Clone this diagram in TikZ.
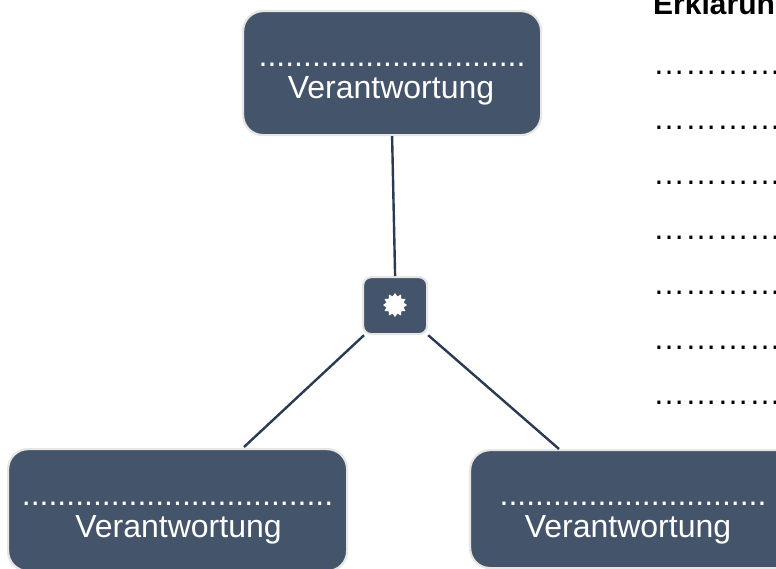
\documentclass[tikz,border=0pt]{standalone}
\usepackage{fontspec}
\setmainfont{Liberation Sans}
\usetikzlibrary{shapes.geometric}
\definecolor{boxfill}{HTML}{44546A}
\definecolor{boxedge}{HTML}{E7E6E6}
\definecolor{linkcol}{HTML}{2A3A54}
\tikzset{
  box/.style={draw=boxedge,line width=2.2pt,fill=boxfill,rounded corners=20pt,inner sep=0pt,anchor=north west},
  hubbox/.style={draw=boxedge,line width=2.2pt,fill=boxfill,rounded corners=8pt,inner sep=0pt,anchor=north west,minimum width=64pt,minimum height=57pt},
  boxtext/.style={text=white,font=\fontsize{32}{32}\selectfont,anchor=base,inner sep=0pt},
  link/.style={draw=linkcol,line width=2.4pt},
  legend/.style={text=black,font=\fontsize{32}{32}\selectfont,anchor=base west,inner sep=0pt},
  legendhead/.style={text=black,font=\fontsize{30}{30}\selectfont\bfseries,anchor=base west,inner sep=0pt},
  burst/.style={star,star points=12,star point ratio=1.35,fill=white,draw=none,minimum size=24pt,inner sep=0pt}
}
\begin{document}
\begin{tikzpicture}[x=1pt,y=-1pt]
\useasboundingbox (0,0) rectangle (776,568);
\clip (0,0) rectangle (776,568);
\node[box,minimum width=298pt,minimum height=124pt] (top) at (242,10) {};
\node[box,minimum width=339pt,minimum height=122pt] (left) at (7,448) {};
\node[box,minimum width=340pt,minimum height=118pt] (right) at (469,449) {};
\node[hubbox] (hub) at (362,276) {};
\node[burst] (sun) at (395,305) {};
\coordinate (leftend) at (244,447);
\coordinate (rightend) at (559,449);
\draw[link] (top.south) -- (hub.north);
\draw[link] (hub.south west) ++(2,0) -- (leftend);
\draw[link] (hub.south east) -- (rightend);
\node[boxtext] (t1) at (392,66) {..............................};
\node[boxtext] (t2) at (391,98) {Verantwortung};
\node[boxtext] (l1) at (177.5,505) {...................................};
\node[boxtext] (l2) at (178.5,537) {Verantwortung};
\node[boxtext] (r1) at (633,505) {..............................};
\node[boxtext] (r2) at (628,537) {Verantwortung};
\node[legendhead] (head) at (653,14) {Erklärun};
\foreach \n/\yy in {a/74,b/129,c/184,d/239,e/294,f/349,g/404}
  \node[legend] (dots\n) at (653,\yy) {…………};
\end{tikzpicture}
\end{document}
